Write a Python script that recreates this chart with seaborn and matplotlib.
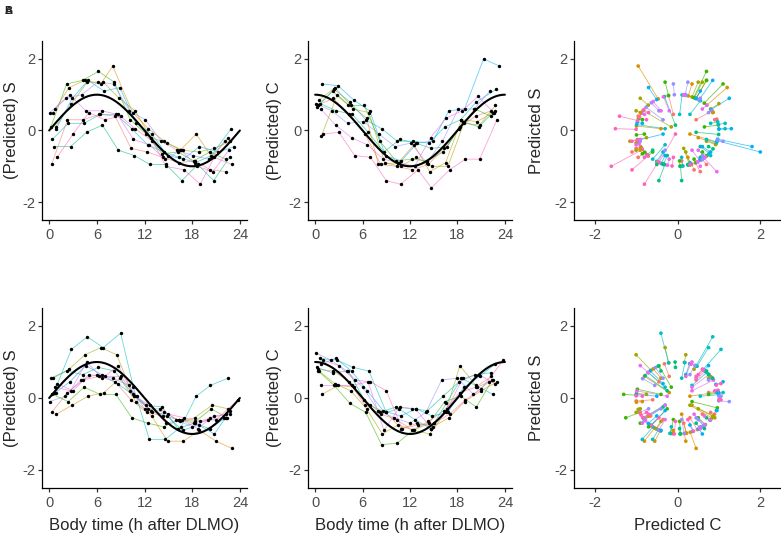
import numpy as np
import pandas as pd
import matplotlib
matplotlib.use("Agg")
import matplotlib.pyplot as plt
import seaborn as sns

# ggplot hue palette, 10 subjects
subject_colors = ["#F8766D", "#D89000", "#A3A500", "#39B600", "#00BF7D",
                  "#00BFC4", "#00B0F6", "#9590FF", "#E76BF3", "#FF62BC"]
subjects = ["s01", "s02", "s03", "s04", "s05", "s06", "s07", "s08", "s09", "s10"]
time_ticks = [0, 6, 12, 18, 24]
value_ticks = [-2, 0, 2]
value_labels = ["-2", "0", "2"]

# ---- top row (A) ----
top_time = [
    [0.3, 2.3, 4.3, 6.3, 8.3, 10.3, 12.3, 14.3, 16.3, 18.3, 20.3, 22.3],
    [0.5, 2.5, 4.5, 6.5, 8.0, 10.5, 12.5, 14.5, 16.5, 18.5, 20.5, 22.5],
    [0.8, 2.8, 4.8, 6.8, 8.8, 10.8, 12.8, 14.8, 16.8, 18.8, 20.8, 22.8],
    [0.2, 2.2, 4.2, 6.2, 8.2, 10.2, 12.2, 14.2, 16.2, 18.2, 20.2, 22.2],
    [0.6, 2.7, 4.7, 6.7, 8.7, 10.7, 12.7, 14.7, 16.7, 18.7, 20.7, 22.7],
    [0.4, 2.4, 4.4, 6.4, 8.4, 10.4, 12.4, 14.4, 16.4, 18.4, 20.4, 22.9],
    [0.9, 2.9, 4.9, 6.9, 8.9, 10.9, 12.9, 14.9, 16.9, 18.9, 21.3, 23.3],
    [0.1, 2.1, 4.1, 6.1, 8.1, 10.1, 12.1, 14.1, 16.1, 18.1, 20.1, 22.1],
    [0.7, 2.6, 4.6, 6.6, 8.6, 10.6, 12.6, 14.6, 16.6, 18.6, 20.6, 22.6],
    [1.0, 3.0, 5.0, 7.0, 9.0, 10.8, 13.0, 14.7, 17.0, 19.0, 20.8, 23.0],
]
top_S = [
    [-0.95, 0.3, 0.3, 0.45, 0.4, -0.5, -0.6, -0.75, -0.9, -0.85, -1.1, -1.15],
    [0.5, 1.2, 1.4, 1.3, 1.8, 0.5, 0.05, -0.3, -0.55, -0.1, -0.75, -0.2],
    [0.1, 0.75, 1.35, 1.35, 0.9, 0.55, -0.2, -0.35, -0.55, -0.6, -0.5, -0.3],
    [0.1, 1.3, 1.4, 1.65, 1.35, 0.3, -0.1, -0.65, -0.6, -0.85, -0.6, -0.8],
    [-0.45, -0.45, -0.05, 0.15, -0.55, -0.7, -0.95, -0.95, -1.4, -0.95, -1.4, -0.75],
    [-0.25, 0.2, 0.2, 0.45, 0.45, 0.05, -0.4, -0.6, -0.75, -0.9, -0.7, 0.05],
    [0.05, 0.9, 1.4, 1.1, 1.2, 0.2, -0.1, -0.7, -0.8, -0.45, -0.6, -0.45],
    [0.5, 0.9, 1.0, 1.35, 1.3, 0.55, 0.3, -0.3, -0.55, -0.7, -0.8, -0.3],
    [0.6, 1.0, 0.55, 0.55, 0.45, -0.25, -0.4, -0.8, -0.55, -1.0, -1.15, -0.55],
    [-0.75, -0.1, 0.5, 0.3, 0.4, 0.05, -0.3, -1.0, -1.1, -1.5, -0.75, -0.95],
]
top_C = [
    [0.7, 0.9, 0.45, -0.1, -0.95, -1.0, -1.1, -0.95, -0.5, 0.1, 0.4, 0.55],
    [0.85, 1.2, 0.7, 0.35, -0.95, -0.9, -0.4, -1.15, -0.9, 0.3, 0.25, 0.5],
    [-0.15, 1.0, 0.6, 0.5, -0.9, -1.0, -0.75, -1.0, -1.0, 0.2, 0.15, 0.7],
    [0.65, 1.1, 0.7, 0.7, -0.3, -0.85, -0.8, -0.85, -0.6, 0.05, 0.6, 0.4],
    [0.75, 0.55, 0.45, -0.05, -0.6, -0.25, -0.35, -0.5, -0.45, 0.25, 0.1, 0.55],
    [0.7, 1.15, 0.8, 0.3, 0.05, -0.3, -0.3, -0.35, 0.1, 0.3, 0.8, 1.15],
    [1.3, 1.25, 0.85, 0.55, -0.7, -0.85, -0.35, -0.3, 0.55, 0.6, 2.0, 1.8],
    [0.75, 0.55, 0.2, 0.25, -0.1, -0.45, -0.35, -0.9, -0.3, 0.6, 0.6, 1.1],
    [0.6, 0.15, -0.2, -0.4, -0.8, -0.9, -1.0, -0.2, 0.35, 0.55, 0.95, 0.5],
    [-0.1, -0.05, -0.7, -0.75, -1.4, -1.5, -1.1, -1.6, -1.1, -0.8, -0.8, 0.3],
]

# ---- bottom row (B) ----
bot_time = [
    [0.3, 2.3, 4.3, 6.3, 8.3, 10.3, 12.3, 14.3, 16.3, 18.3, 20.3, 22.3],
    [0.9, 2.9, 4.9, 6.9, 8.9, 10.9, 12.9, 14.9, 16.9, 18.9, 21.0, 23.0],
    [0.5, 2.5, 4.5, 6.5, 8.5, 10.5, 12.5, 14.5, 16.5, 18.3, 20.5, 22.5],
    [0.4, 2.4, 4.4, 6.4, 8.4, 10.4, 12.4, 14.4, 16.4, 18.4, 20.4, 22.4],
    [0.2, 2.2, 4.2, 6.2, 8.2, 10.2, 12.2, 14.2, 16.2, 18.2, 20.2, 22.2],
    [0.6, 2.8, 4.8, 6.8, 9.0, 10.6, 12.6, 14.6, 16.6, 18.5, 20.3, 22.5],
    [0.8, 2.6, 4.6, 6.6, 8.6, 10.8, 12.8, 14.8, 16.8, 18.8, 20.8, 22.8],
    [0.1, 2.0, 4.0, 6.0, 8.0, 10.0, 12.0, 14.0, 16.0, 18.0, 20.0, 22.0],
    [0.7, 2.7, 4.7, 6.7, 8.7, 10.7, 12.7, 14.7, 16.7, 18.7, 20.7, 22.7],
    [1.0, 3.0, 5.0, 7.0, 9.0, 11.0, 13.0, 15.0, 17.0, 19.0, 21.0, 23.8],
]
bot_S = [
    [-0.4, 0.15, 0.5, 0.6, 0.45, -0.05, -0.4, -0.5, -0.6, -0.7, -0.55, -0.45],
    [-0.45, -0.2, 0.05, 0.15, 0.55, -0.1, -0.5, -1.2, -1.2, -0.9, -1.2, -1.4],
    [0.55, 0.8, 1.2, 1.4, 1.2, 0.1, -0.3, -0.4, -0.65, -0.55, -0.2, -0.3],
    [0.1, -0.1, 0.3, 0.1, 0.1, -0.55, -0.7, -0.8, -0.6, -0.65, -0.3, -0.55],
    [0.55, 0.75, 0.65, 0.85, 0.75, 0.2, -0.2, -0.25, -0.85, -0.7, -0.85, -0.55],
    [0.15, 1.35, 1.7, 1.4, 1.8, 0.3, -1.15, -1.15, -0.8, 0.05, 0.35, 0.55],
    [0.15, 0.45, 0.9, 0.65, 0.4, 0.05, -0.35, -0.5, -0.9, -0.75, -1.0, -0.35],
    [-0.1, 0.05, 0.5, 0.65, 0.55, 0.35, -0.3, -0.3, -0.6, -0.8, -0.6, -0.55],
    [0.3, 0.2, 1.0, 0.55, 0.9, 0.05, -0.2, -0.7, -0.6, -0.85, -0.5, -0.45],
    [0.4, 0.2, 0.65, 0.6, 0.6, 0.05, -0.4, -0.45, -0.55, -0.65, -0.6, -0.05],
]
bot_C = [
    [0.8, 0.75, 0.45, -0.2, -0.45, -0.6, -0.9, -0.65, -0.35, 0.15, 0.3, 0.6],
    [0.1, 0.35, 0.3, -0.2, -0.4, -0.85, -0.7, -0.8, -0.55, -0.1, 0.2, 0.45],
    [0.75, 0.4, 0.2, -0.3, -1.0, -0.75, -0.9, -1.0, -0.4, 0.9, 0.3, 0.5],
    [0.75, 0.35, -0.15, -0.4, -1.3, -1.25, -0.9, -0.7, -0.1, 0.05, -0.25, 0.5],
    [0.85, 0.7, 0.75, -0.05, -0.4, -0.25, -0.3, -0.35, 0.05, 0.45, 0.65, 0.7],
    [1.1, 1.05, 0.85, 0.75, -0.4, -0.3, -0.6, -0.85, -0.15, 0.55, 0.35, 0.1],
    [0.95, 1.1, 0.75, 0.2, -0.35, -0.5, -0.3, -0.5, -0.4, 0.3, 0.6, 0.95],
    [1.25, 1.05, 0.75, 0.3, -0.35, -0.55, -0.7, -0.4, 0.5, 0.55, 0.1, 0.45],
    [0.35, 0.35, 0.35, 0.45, -0.9, -0.25, -0.3, -0.85, -0.3, 0.55, 0.65, 0.4],
    [1.05, 0.9, 0.5, 0.45, 0.2, -0.85, -0.75, -0.7, -0.45, -0.05, 0.25, 1.05],
]


def to_frame(times, s_vals, c_vals):
    rows = []
    for subj, tt, ss, cc in zip(subjects, times, s_vals, c_vals):
        for t, s, c in zip(tt, ss, cc):
            rows.append((subj, t, s, c))
    df = pd.DataFrame(rows, columns=["subject", "time", "S", "C"])
    # predicted phase on the unit circle
    amp = np.hypot(df["S"], df["C"])
    df["unitS"] = df["S"] / amp
    df["unitC"] = df["C"] / amp
    return df


sns.set_theme(style="ticks")
plt.rcParams["font.family"] = ["Liberation Sans", "DejaVu Sans"]
plt.rcParams["axes.linewidth"] = 0.9
plt.rcParams["xtick.major.width"] = 0.9
plt.rcParams["ytick.major.width"] = 0.9
plt.rcParams["xtick.major.size"] = 3
plt.rcParams["ytick.major.size"] = 3
plt.rcParams["xtick.major.pad"] = 2.5
plt.rcParams["ytick.major.pad"] = 1.5
plt.rcParams["xtick.color"] = "#333333"
plt.rcParams["ytick.color"] = "#333333"
plt.rcParams["xtick.labelcolor"] = "#4D4D4D"
plt.rcParams["ytick.labelcolor"] = "#4D4D4D"
plt.rcParams["xtick.labelsize"] = 10.5
plt.rcParams["ytick.labelsize"] = 10.5
plt.rcParams["axes.labelsize"] = 12
plt.rcParams["axes.edgecolor"] = "black"

fig = plt.figure(figsize=(7.81, 5.35), dpi=100)
col_x = [0.0538, 0.3944, 0.735]
col_w = [0.2625, 0.2612, 0.265]
row_y = [0.5888, 0.0879]
row_h = [0.3346, 0.3364]

tgrid = np.linspace(0, 24, 200)
pal = dict(zip(subjects, subject_colors))

for r, (times, s_vals, c_vals) in enumerate([(top_time, top_S, top_C),
                                             (bot_time, bot_S, bot_C)]):
    df = to_frame(times, s_vals, c_vals)
    for c, var in enumerate(["S", "C"]):
        ax = fig.add_axes([col_x[c], row_y[r], col_w[c], row_h[r]])
        sns.lineplot(data=df, x="time", y=var, hue="subject", palette=pal,
                     units="subject", estimator=None, linewidth=0.6, alpha=0.6,
                     legend=False, ax=ax)
        sns.scatterplot(data=df, x="time", y=var, color="black", s=6,
                        linewidth=0, ax=ax, zorder=3)
        curve = np.sin(2 * np.pi * tgrid / 24) if var == "S" else np.cos(2 * np.pi * tgrid / 24)
        ax.plot(tgrid, curve, color="black", linewidth=1.5, zorder=4)
        ax.set_xlim(-0.9, 24.9)
        ax.set_ylim(-2.5, 2.5)
        ax.set_xticks(time_ticks)
        ax.set_yticks(value_ticks)
        ax.set_yticklabels(value_labels)
        ax.set_ylabel("(Predicted) " + var, labelpad=3 if c == 0 else 5)
        ax.set_xlabel("Body time (h after DLMO)" if r == 1 else "", labelpad=6)
        sns.despine(ax=ax)

    ax = fig.add_axes([col_x[2], row_y[r], col_w[2], row_h[r]])
    for _, p in df.iterrows():
        ax.plot([p["C"], p["unitC"]], [p["S"], p["unitS"]],
                color=pal[p["subject"]], linewidth=0.6, alpha=0.7, zorder=1)
    sns.scatterplot(data=df, x="unitC", y="unitS", hue="subject", palette=pal,
                    s=7, linewidth=0, legend=False, ax=ax, zorder=2)
    sns.scatterplot(data=df, x="C", y="S", hue="subject", palette=pal,
                    s=7, linewidth=0, legend=False, ax=ax, zorder=3)
    ax.set_xlim(-2.5, 2.5)
    ax.set_ylim(-2.5, 2.5)
    ax.set_xticks(value_ticks)
    ax.set_yticks(value_ticks)
    ax.set_xticklabels(value_labels)
    ax.set_yticklabels(value_labels)
    ax.set_ylabel("Predicted S", labelpad=8)
    ax.set_xlabel("Predicted C" if r == 1 else "", labelpad=6)
    sns.despine(ax=ax)

fig.text(0.006, 0.988, "A", fontsize=8, fontweight="bold", va="top")
fig.text(0.006, 0.988, "B", fontsize=8, fontweight="bold", va="top")

fig.savefig("out.png", dpi=100)
